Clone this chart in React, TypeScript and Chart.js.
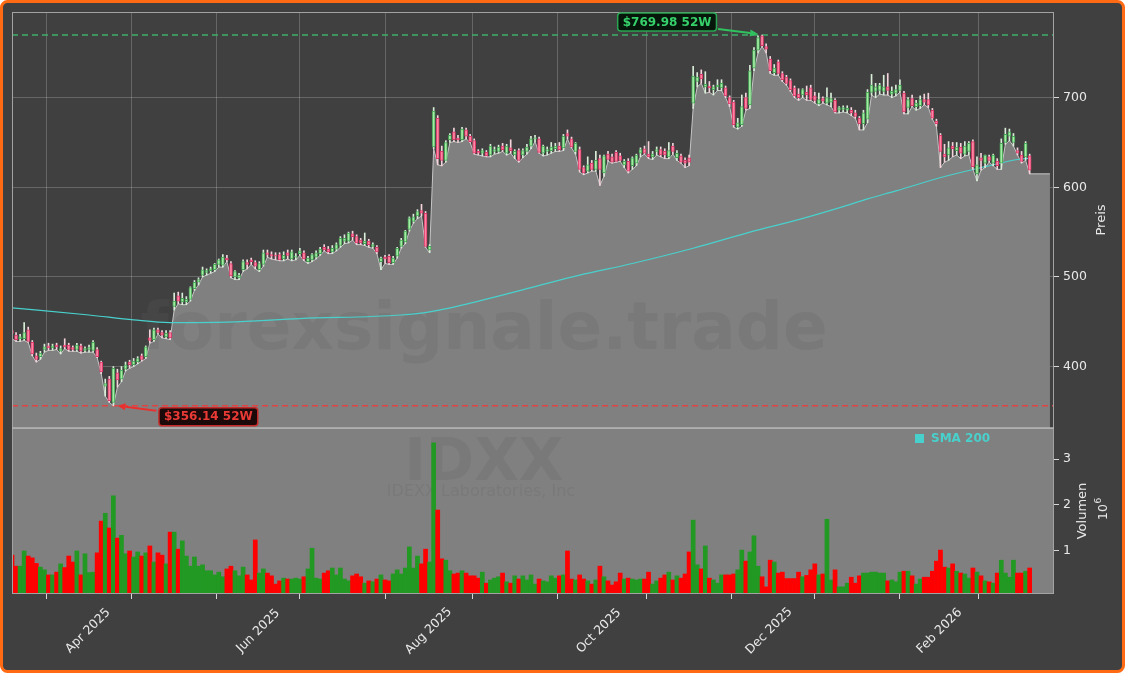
import React, { useEffect, useRef } from 'react';
import { Chart, registerables } from 'chart.js';

Chart.register(...registerables);

// ---------------- data (trading-day index 0 = 2025-03-05) ----------------
const opens = [
  440, 435, 431, 431, 441, 427, 412, 411, 419, 423,
  421, 424, 417, 424, 424, 421, 419, 423, 418, 419,
  418, 419, 405, 378, 386, 360, 393, 386, 397, 405,
  402, 405, 412, 411, 432, 430, 441, 438, 433, 438,
  467, 479, 472, 472, 475, 487, 494, 502, 505, 507,
  508, 514, 513, 521, 515, 500, 499, 508, 516, 519,
  516, 508, 514, 527, 525, 524, 525, 520, 527, 520,
  522, 526, 527, 517, 519, 522, 526, 533, 531, 528,
  531, 535, 540, 540, 548, 545, 541, 537, 540, 534,
  533, 517, 522, 523, 516, 523, 534, 539, 553, 562,
  568, 574, 571, 530, 645, 677, 640, 630, 653, 662,
  655, 653, 664, 657, 652, 640, 638, 639, 636, 640,
  640, 646, 638, 644, 636, 641, 636, 640, 646, 654,
  654, 638, 640, 641, 643, 646, 644, 660, 654, 640,
  642, 622, 618, 627, 620, 632, 616, 637, 634, 639,
  635, 625, 629, 624, 627, 638, 643, 637, 634, 640,
  642, 640, 634, 646, 633, 635, 630, 633, 694, 718,
  726, 712, 713, 709, 712, 711, 711, 700, 695, 667,
  670, 700, 692, 733, 753, 769, 757, 743, 728, 740,
  727, 723, 719, 711, 704, 703, 706, 711, 702, 693,
  699, 694, 695, 697, 686, 687, 686, 686, 683, 677,
  671, 676, 706, 707, 708, 707, 712, 704, 705, 708,
  705, 689, 699, 690, 691, 698, 698, 686, 674, 658,
  637, 636, 646, 641, 645, 637, 640, 651, 615, 633,
  627, 634, 627, 629, 627, 650, 657, 650, 641, 636,
  634, 635,
];
const highs = [
  443, 438, 436, 449, 444, 429, 415, 417, 425, 426,
  425, 426, 423, 431, 426, 423, 426, 425, 422, 424,
  429, 421, 406, 386, 389, 400, 397, 400, 405, 407,
  409, 411, 414, 423, 441, 443, 443, 440, 440, 440,
  482, 483, 482, 478, 489, 496, 499, 511, 509, 511,
  515, 520, 525, 524, 517, 507, 504, 519, 519, 521,
  518, 517, 530, 530, 528, 527, 527, 528, 530, 530,
  526, 532, 529, 523, 526, 529, 533, 536, 534, 535,
  538, 545, 547, 550, 551, 547, 543, 549, 542, 538,
  535, 522, 524, 525, 523, 533, 543, 552, 567, 570,
  575, 581, 573, 536, 689, 680, 646, 652, 660, 666,
  658, 667, 666, 659, 654, 642, 643, 641, 648, 645,
  647, 649, 648, 653, 642, 643, 643, 648, 657, 658,
  656, 647, 645, 650, 649, 650, 659, 664, 656, 650,
  645, 624, 634, 630, 640, 636, 636, 640, 637, 641,
  638, 631, 632, 634, 637, 644, 646, 651, 640, 645,
  645, 643, 650, 649, 641, 637, 633, 636, 735, 728,
  731, 729, 718, 714, 720, 720, 713, 702, 697, 677,
  703, 705, 736, 756, 769, 769.98, 760, 746, 737, 742,
  729, 725, 721, 713, 710, 710, 713, 714, 706, 705,
  701, 711, 705, 699, 690, 691, 691, 689, 686, 679,
  686, 709, 726, 716, 716, 725, 727, 712, 714, 720,
  707, 700, 703, 697, 702, 704, 705, 688, 676, 660,
  648, 651, 650, 650, 649, 651, 651, 653, 634, 638,
  636, 636, 637, 632, 654, 666, 665, 660, 644, 640,
  651, 637,
];
const lows = [
  431, 428, 428, 429, 427, 412, 405, 408, 416, 418,
  418, 419, 414, 420, 417, 417, 417, 415, 416, 416,
  416, 410, 392, 367, 360, 356.14, 377, 383, 395, 398,
  400, 403, 406, 409, 426, 428, 436, 432, 431, 430,
  463, 470, 469, 469, 473, 485, 491, 500, 502, 504,
  506, 511, 511, 517, 499, 497, 497, 506, 509, 514,
  509, 506, 512, 522, 520, 519, 518, 518, 520, 518,
  519, 524, 518, 515, 517, 520, 524, 529, 526, 526,
  529, 533, 537, 538, 541, 536, 536, 535, 533, 532,
  526, 508, 515, 514, 514, 521, 532, 537, 551, 560,
  565, 568, 533, 527, 643, 625, 624, 628, 650, 651,
  650, 651, 654, 650, 637, 636, 635, 634, 634, 637,
  638, 640, 636, 638, 632, 628, 633, 637, 643, 651,
  638, 635, 636, 638, 640, 640, 641, 654, 644, 637,
  617, 614, 616, 618, 618, 602, 612, 629, 627, 628,
  629, 622, 616, 620, 624, 634, 637, 632, 631, 636,
  634, 632, 632, 637, 630, 627, 622, 624, 688, 712,
  716, 705, 706, 703, 708, 708, 700, 690, 667, 665,
  668, 686, 688, 730, 750, 757, 750, 727, 725, 725,
  718, 714, 707, 700, 697, 700, 697, 697, 694, 691,
  694, 692, 690, 683, 683, 684, 683, 680, 677, 664,
  664, 672, 703, 700, 704, 703, 703, 700, 702, 706,
  682, 682, 690, 686, 688, 692, 689, 676, 668, 622,
  628, 630, 634, 636, 632, 635, 636, 620, 607, 619,
  622, 628, 624, 620, 620, 648, 652, 646, 636, 627,
  630, 615,
];
const closes = [
  437, 430, 433, 438, 428, 414, 408, 415, 422, 421,
  423, 422, 420, 422, 419, 419, 424, 417, 420, 421,
  427, 411, 394, 381, 362, 398, 385, 396, 402, 402,
  406, 409, 408, 422, 429, 441, 438, 435, 437, 432,
  473, 473, 476, 475, 488, 494, 497, 508, 507, 509,
  514, 519, 522, 519, 501, 506, 502, 517, 514, 517,
  512, 515, 527, 525, 523, 523, 519, 524, 524, 528,
  523, 529, 520, 521, 525, 527, 531, 530, 528, 532,
  536, 543, 543, 549, 545, 538, 538, 540, 536, 536,
  528, 521, 520, 516, 521, 532, 541, 551, 566, 567,
  573, 571, 534, 534, 685, 632, 630, 650, 658, 653,
  653, 665, 657, 651, 638, 638, 641, 635, 646, 642,
  645, 642, 646, 641, 640, 630, 641, 645, 654, 655,
  639, 646, 642, 645, 646, 642, 657, 657, 645, 649,
  620, 616, 625, 620, 630, 620, 635, 631, 628, 629,
  630, 629, 618, 633, 636, 642, 638, 634, 637, 642,
  636, 636, 641, 640, 638, 628, 627, 628, 724, 723,
  721, 715, 711, 712, 714, 716, 702, 693, 670, 672,
  690, 688, 730, 753, 767, 758, 754, 730, 733, 727,
  720, 716, 709, 702, 700, 709, 703, 698, 697, 698,
  696, 700, 699, 684, 689, 689, 688, 683, 679, 671,
  683, 706, 714, 712, 714, 712, 708, 707, 709, 714,
  684, 698, 691, 694, 698, 695, 692, 677, 671, 640,
  634, 644, 643, 645, 638, 646, 649, 623, 625, 630,
  636, 630, 636, 624, 649, 659, 662, 657, 638, 629,
  649, 619,
];
// volume in millions of shares
const volumeMillions = [
  0.91, 0.67, 0.67, 1.0, 0.89, 0.85, 0.73, 0.65, 0.59, 0.48,
  0.48, 0.54, 0.72, 0.64, 0.89, 0.76, 1.0, 0.48, 0.94, 0.53,
  0.54, 0.96, 1.65, 1.82, 1.5, 2.2, 1.28, 1.34, 0.94, 1.0,
  0.87, 0.98, 0.89, 0.96, 1.11, 0.76, 0.96, 0.91, 0.72, 1.41,
  1.41, 1.04, 1.22, 0.89, 0.67, 0.87, 0.67, 0.7, 0.57, 0.57,
  0.48, 0.54, 0.44, 0.61, 0.67, 0.57, 0.46, 0.65, 0.48, 0.37,
  1.24, 0.52, 0.61, 0.52, 0.46, 0.28, 0.35, 0.41, 0.39, 0.39,
  0.41, 0.39, 0.44, 0.61, 1.06, 0.41, 0.39, 0.52, 0.57, 0.63,
  0.48, 0.63, 0.39, 0.35, 0.46, 0.5, 0.44, 0.3, 0.35, 0.33,
  0.39, 0.48, 0.37, 0.35, 0.5, 0.59, 0.5, 0.63, 1.09, 0.63,
  0.89, 0.72, 1.04, 0.76, 3.35, 1.89, 0.83, 0.8, 0.57, 0.5,
  0.52, 0.57, 0.52, 0.46, 0.46, 0.41, 0.54, 0.3, 0.37, 0.41,
  0.44, 0.52, 0.33, 0.3, 0.46, 0.39, 0.46, 0.37, 0.48, 0.28,
  0.39, 0.35, 0.33, 0.46, 0.41, 0.46, 0.48, 1.0, 0.39, 0.37,
  0.48, 0.39, 0.35, 0.28, 0.37, 0.67, 0.44, 0.35, 0.26, 0.33,
  0.52, 0.39, 0.41, 0.39, 0.37, 0.39, 0.39, 0.54, 0.28, 0.35,
  0.41, 0.48, 0.54, 0.37, 0.46, 0.41, 0.5, 0.98, 1.67, 0.7,
  0.61, 1.11, 0.41, 0.37, 0.3, 0.48, 0.48, 0.48, 0.5, 0.59,
  1.02, 0.78, 0.98, 1.33, 0.67, 0.44, 0.22, 0.8, 0.76, 0.52,
  0.54, 0.4, 0.4, 0.4, 0.54, 0.44, 0.47, 0.59, 0.72, 0.48,
  0.5, 1.69, 0.37, 0.59, 0.22, 0.22, 0.3, 0.43, 0.3, 0.46,
  0.52, 0.52, 0.54, 0.54, 0.52, 0.52, 0.35, 0.37, 0.33, 0.54,
  0.56, 0.56, 0.46, 0.28, 0.39, 0.43, 0.43, 0.56, 0.78, 1.02,
  0.65, 0.63, 0.72, 0.56, 0.52, 0.5, 0.41, 0.63, 0.54, 0.46,
  0.35, 0.33, 0.3, 0.52, 0.8, 0.52, 0.43, 0.8, 0.52, 0.52,
  0.56, 0.63,
];
const smaIndex = [0, 19, 30, 39, 53, 71, 96, 103, 116, 128, 140, 153, 168, 182, 194, 205, 211, 218, 230, 240, 248, 251];
const smaValues = [465.5, 457.5, 452, 449, 449.5, 453.5, 457.5, 461, 474, 488, 502, 515, 532, 550, 564, 578.5, 587, 596, 612, 623, 631, 632.5];

const monthTickIndex = [19, 40, 61, 81, 103, 124, 145, 168, 187, 209, 229, 248];
const monthTickLabels = ['Apr 2025', '', 'Jun 2025', '', 'Aug 2025', '', 'Oct 2025', '', 'Dec 2025', '', 'Feb 2026', ''];
const priceTicks = [400, 500, 600, 700];
const volumeTicks = [1, 2, 3];

const high52 = 769.98;
const high52Index = 185;
const low52 = 356.14;
const low52Index = 25;
const areaTailIndex = 256;

// ---------------- styling ----------------
const FONT = '"DejaVu Sans", sans-serif';
const BG = '#404040';
const PANEL_GRAY = '#808080';
const GRID = 'rgba(255,255,255,0.2)';
const TEXT = '#e8e8e8';
const X_MIN = 0;
const X_MAX = 257;

function drawTag(ctx: CanvasRenderingContext2D, text: string, cx: number, cy: number, fg: string, bg: string, border: string) {
  ctx.save();
  ctx.font = `bold 12px ${FONT}`;
  const w = ctx.measureText(text).width + 10;
  const h = 18;
  ctx.beginPath();
  (ctx as any).roundRect(cx - w / 2, cy - h / 2, w, h, 3);
  ctx.fillStyle = bg;
  ctx.fill();
  ctx.lineWidth = 1.5;
  ctx.strokeStyle = border;
  ctx.stroke();
  ctx.fillStyle = fg;
  ctx.textAlign = 'center';
  ctx.textBaseline = 'middle';
  ctx.fillText(text, cx, cy + 0.5);
  ctx.restore();
}

function drawArrow(ctx: CanvasRenderingContext2D, x0: number, y0: number, x1: number, y1: number, color: string) {
  const ang = Math.atan2(y1 - y0, x1 - x0);
  const hl = 8, hw = 3.5;
  const bx = x1 - hl * Math.cos(ang), by = y1 - hl * Math.sin(ang);
  ctx.save();
  ctx.strokeStyle = color;
  ctx.lineWidth = 2;
  ctx.beginPath();
  ctx.moveTo(x0, y0);
  ctx.lineTo(bx, by);
  ctx.stroke();
  ctx.fillStyle = color;
  ctx.beginPath();
  ctx.moveTo(x1, y1);
  ctx.lineTo(bx - hw * Math.sin(ang), by + hw * Math.cos(ang));
  ctx.lineTo(bx + hw * Math.sin(ang), by - hw * Math.cos(ang));
  ctx.closePath();
  ctx.fill();
  ctx.restore();
}

const decorPlugin = {
  id: 'decor',
  beforeDraw(chart: any) {
    const { ctx, width, height } = chart;
    ctx.save();
    ctx.fillStyle = '#ffffff';
    ctx.fillRect(0, 0, width, height);
    ctx.beginPath();
    ctx.roundRect(1.5, 1.5, width - 3, height - 3, 6);
    ctx.fillStyle = BG;
    ctx.fill();
    ctx.lineWidth = 3;
    ctx.strokeStyle = '#ff6a13';
    ctx.stroke();
    ctx.restore();
  },
  beforeDatasetsDraw(chart: any) {
    const { ctx, chartArea } = chart;
    const yv = chart.scales.yv;
    ctx.save();
    ctx.fillStyle = PANEL_GRAY;
    ctx.fillRect(chartArea.left, yv.top, chartArea.right - chartArea.left, yv.bottom - yv.top);
    ctx.restore();
  },
  afterDatasetDraw(chart: any, args: any) {
    if (args.index !== 0) return;
    const { ctx } = chart;
    const y = chart.scales.y;
    const yv = chart.scales.yv;
    ctx.save();
    ctx.fillStyle = 'rgba(96,96,96,0.2)';
    ctx.textAlign = 'center';
    ctx.textBaseline = 'alphabetic';
    ctx.font = `bold 66px ${FONT}`;
    ctx.fillText('forexsignale.trade', 484, y.bottom - 79);
    ctx.font = `bold 58px ${FONT}`;
    ctx.fillText('IDXX', 484, yv.top + 52);
    ctx.font = `16px ${FONT}`;
    ctx.fillText('IDEXX Laboratories, Inc', 481, yv.top + 68);
    ctx.restore();
  },
  afterDatasetsDraw(chart: any) {
    const { ctx, chartArea } = chart;
    const xs = chart.scales.x;
    const ys = chart.scales.y;
    const yv = chart.scales.yv;
    // panel frames
    ctx.save();
    ctx.strokeStyle = '#a3a3a3';
    ctx.lineWidth = 1;
    ctx.strokeRect(chartArea.left + 0.5, chartArea.top + 0.5, chartArea.right - chartArea.left - 1, ys.bottom - chartArea.top);
    ctx.strokeRect(chartArea.left + 0.5, yv.top + 0.5, chartArea.right - chartArea.left - 1, yv.bottom - yv.top - 1);
    ctx.strokeStyle = '#b4b4b4';
    ctx.lineWidth = 1.5;
    ctx.beginPath();
    ctx.moveTo(chartArea.left, ys.bottom);
    ctx.lineTo(chartArea.right, ys.bottom);
    ctx.stroke();
    ctx.restore();

    // 52W annotations
    const hx = xs.getPixelForValue(high52Index), hy = ys.getPixelForValue(high52);
    drawArrow(ctx, hx - 44, hy - 6, hx - 4, hy - 1, '#2fc25e');
    drawTag(ctx, `$${high52.toFixed(2)} 52W`, hx - 95, hy - 13, '#36d06a', '#07160b', '#2aa552');
    const lx = xs.getPixelForValue(low52Index), ly = ys.getPixelForValue(low52);
    drawArrow(ctx, lx + 43, ly + 5, lx + 4, ly, '#e8312f');
    drawTag(ctx, `$${low52.toFixed(2)} 52W`, lx + 95, ly + 11, '#ea3a36', '#1c0909', '#c42a28');

    // legend
    ctx.save();
    ctx.fillStyle = '#48d1cc';
    ctx.fillRect(915, yv.top + 6, 9, 9);
    ctx.font = `bold 12px ${FONT}`;
    ctx.textAlign = 'left';
    ctx.textBaseline = 'middle';
    ctx.fillText('SMA 200', 931, yv.top + 10.5);
    ctx.restore();
  },
  afterDraw(chart: any) {
    const { ctx } = chart;
    const xs = chart.scales.x;
    const ys = chart.scales.y;
    const yv = chart.scales.yv;
    ctx.save();
    ctx.fillStyle = TEXT;
    ctx.font = `12.5px ${FONT}`;
    ctx.textAlign = 'center';
    ctx.textBaseline = 'middle';
    monthTickIndex.forEach((v, k) => {
      const lab = monthTickLabels[k];
      if (!lab) return;
      const px = xs.getPixelForValue(v);
      ctx.save();
      ctx.translate(px - 1, xs.top + 37);
      ctx.rotate(-Math.PI / 4);
      ctx.fillText(lab, 0, 0);
      ctx.restore();
    });
    // axis titles
    const rot = (t: string, x: number, y: number, font: string) => {
      ctx.save();
      ctx.font = font;
      ctx.translate(x, y);
      ctx.rotate(-Math.PI / 2);
      ctx.fillText(t, 0, 0);
      ctx.restore();
    };
    rot('Preis', 1102, (ys.top + ys.bottom) / 2, `13px ${FONT}`);
    rot('Volumen', 1083, (yv.top + yv.bottom) / 2, `13px ${FONT}`);
    // offset text 10^6
    ctx.save();
    ctx.translate(1104, 509);
    ctx.rotate(-Math.PI / 2);
    ctx.textAlign = 'left';
    ctx.font = `12.5px ${FONT}`;
    const w10 = ctx.measureText('10').width;
    ctx.fillText('10', -w10 / 2 - 3, 0);
    ctx.font = `9px ${FONT}`;
    ctx.fillText('6', w10 / 2 - 3 + 0.5, -5);
    ctx.restore();
    ctx.restore();
  },
};

export default function App() {
  const ref = useRef<HTMLCanvasElement>(null);
  useEffect(() => {
    const canvas = ref.current;
    if (!canvas) return;
    const n = opens.length;
    const idx = Array.from({ length: n }, (_, i) => i);
    const up = idx.map((i) => closes[i] >= opens[i]);

    const areaData = idx.map((i) => ({ x: i, y: lows[i] }));
    areaData.push({ x: areaTailIndex, y: lows[n - 1] });
    const smaData = smaIndex.map((v, k) => ({ x: v, y: smaValues[k] }));
    const wickData = idx.map((i) => ({ x: i, y: [lows[i], highs[i]] }));
    const bodyData = idx.map((i) => ({ x: i, y: [opens[i], closes[i]] }));
    const volData = idx.map((i) => ({ x: i, y: volumeMillions[i] }));

    const chart = new Chart(canvas, {
      type: 'bar',
      data: {
        datasets: [
          {
            type: 'line',
            data: areaData,
            yAxisID: 'y',
            borderColor: '#c6c6c6',
            borderWidth: 1,
            backgroundColor: PANEL_GRAY,
            fill: 'start',
            pointRadius: 0,
            tension: 0,
            order: 10,
          },
          {
            type: 'line',
            data: smaData,
            yAxisID: 'y',
            borderColor: '#48d1cc',
            borderWidth: 1.2,
            pointRadius: 0,
            cubicInterpolationMode: 'monotone',
            fill: false,
            order: 6,
          },
          {
            type: 'line',
            data: [{ x: X_MIN, y: high52 }, { x: X_MAX, y: high52 }],
            yAxisID: 'y',
            borderColor: '#3fae68',
            borderWidth: 1.5,
            borderDash: [6, 4],
            pointRadius: 0,
            fill: false,
            order: 5,
          },
          {
            type: 'line',
            data: [{ x: X_MIN, y: low52 }, { x: X_MAX, y: low52 }],
            yAxisID: 'y',
            borderColor: '#e04343',
            borderWidth: 1.5,
            borderDash: [6, 4],
            pointRadius: 0,
            fill: false,
            order: 5,
          },
          {
            type: 'bar',
            data: wickData,
            yAxisID: 'y',
            backgroundColor: up.map((u) => (u ? '#d9eed9' : '#f4d3db')),
            barThickness: 1,
            grouped: false,
            order: 3,
          },
          {
            type: 'bar',
            data: bodyData,
            yAxisID: 'y',
            backgroundColor: up.map((u) => (u ? '#a4eca4' : '#ff86a2')),
            borderColor: up.map((u) => (u ? '#46a455' : '#d9396a')),
            borderWidth: 1,
            borderSkipped: false,
            barThickness: 3,
            minBarLength: 1,
            grouped: false,
            order: 2,
          },
          {
            type: 'bar',
            data: volData,
            yAxisID: 'yv',
            backgroundColor: up.map((u) => (u ? '#229922' : '#ff0000')),
            barPercentage: 1,
            categoryPercentage: 1,
            grouped: false,
            order: 1,
          },
        ],
      } as any,
      options: {
        responsive: false,
        animation: false,
        events: [],
        devicePixelRatio: 1,
        layout: { padding: { left: 12, top: 12, right: 0, bottom: 0 } },
        plugins: { legend: { display: false }, tooltip: { enabled: false } },
        scales: {
          x: {
            type: 'linear',
            min: X_MIN,
            max: X_MAX,
            offset: false,
            afterBuildTicks: (s: any) => {
              s.ticks = monthTickIndex.map((v) => ({ value: v }));
            },
            ticks: { display: false, autoSkip: false },
            grid: { color: GRID, tickColor: '#d8d8d8', tickLength: 5, drawTicks: true },
            border: { display: false },
            afterFit: (s: any) => {
              s.height = 79;
            },
          },
          y: {
            type: 'linear',
            position: 'right',
            stack: 'main',
            stackWeight: 416,
            min: 331.4,
            max: 795.6,
            afterBuildTicks: (s: any) => {
              s.ticks = priceTicks.map((v) => ({ value: v }));
            },
            ticks: { color: TEXT, font: { family: 'DejaVu Sans', size: 12.5 }, padding: 4 },
            grid: { color: GRID, tickColor: '#d8d8d8', tickLength: 5 },
            border: { display: false },
            afterFit: (s: any) => {
              s.width = 71;
            },
          },
          yv: {
            type: 'linear',
            position: 'right',
            stack: 'main',
            stackWeight: 166,
            min: 0.065,
            max: 3.674,
            afterBuildTicks: (s: any) => {
              s.ticks = volumeTicks.map((v) => ({ value: v }));
            },
            ticks: { color: TEXT, font: { family: 'DejaVu Sans', size: 12.5 }, padding: 4 },
            grid: { drawOnChartArea: false, tickColor: '#d8d8d8', tickLength: 5 },
            border: { display: false },
            afterFit: (s: any) => {
              s.width = 71;
            },
          },
        },
      } as any,
      plugins: [decorPlugin as any],
    });
    return () => chart.destroy();
  }, []);

  return (
    <div style={{ position: 'fixed', left: 0, top: 0, width: 1125, height: 673 }}>
      <canvas ref={ref} width={1125} height={673} style={{ display: 'block' }} />
    </div>
  );
}
